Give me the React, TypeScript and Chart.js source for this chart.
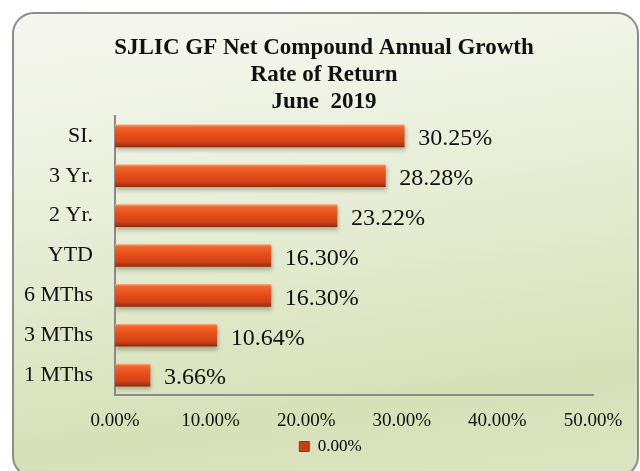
import React, { useEffect, useRef } from 'react';
import { Chart, registerables } from 'chart.js';

Chart.register(...registerables);

const categories = ['SI.', '3 Yr.', '2 Yr.', 'YTD', '6 MThs', '3 MThs', '1 MThs'];
const values = [30.25, 28.28, 23.22, 16.3, 16.3, 10.64, 3.66];
const xMin = 0;
const xMax = 50;
const xStep = 10;
const titleLines = ['SJLIC GF Net Compound Annual Growth', 'Rate of Return', 'June  2019'];
const seriesLabel = '0.00%';

const SERIF = '"Liberation Serif", "Times New Roman", serif';
const BAR_H = 22;

export default function App() {
  const ref = useRef<HTMLCanvasElement | null>(null);

  useEffect(() => {
    if (!ref.current) return;
    const shadowAndLabels = {
      id: 'shadowAndLabels',
      afterLayout(chart: any) {
        const t = chart.titleBlock;
        if (t) {
          t.left = 55;
          t.right = 593;
        }
        const l = chart.legend;
        if (l) {
          l.left = 68;
          l.right = 593;
        }
      },
      beforeDatasetsDraw(chart: any) {
        const ctx = chart.ctx;
        ctx.save();
        ctx.shadowColor = 'rgba(60,60,40,0.35)';
        ctx.shadowBlur = 4;
        ctx.shadowOffsetX = 1;
        ctx.shadowOffsetY = 3;
      },
      afterDatasetsDraw(chart: any) {
        const ctx = chart.ctx;
        ctx.restore();
        const meta = chart.getDatasetMeta(0);
        ctx.save();
        ctx.font = '24px ' + SERIF;
        ctx.fillStyle = '#111111';
        ctx.textBaseline = 'middle';
        ctx.textAlign = 'left';
        meta.data.forEach((el: any, i: number) => {
          const v = chart.data.datasets[0].data[i] as number;
          ctx.fillText(v.toFixed(2) + '%', el.x + 14, el.y + 3);
        });
        ctx.restore();
      },
    };

    const chart = new Chart(ref.current, {
      type: 'bar',
      data: {
        labels: categories,
        datasets: [
          {
            label: seriesLabel,
            data: values,
            barThickness: BAR_H,
            borderWidth: 0,
            backgroundColor: (c: any) => {
              const ch = c.chart;
              if (c.type !== 'data' || !ch.chartArea || !ch.scales.y) return '#d8461a';
              const y = ch.scales.y.getPixelForValue(c.dataIndex);
              const g = ch.ctx.createLinearGradient(0, y - BAR_H / 2, 0, y + BAR_H / 2);
              g.addColorStop(0, '#f6a27a');
              g.addColorStop(0.1, '#f0662c');
              g.addColorStop(0.45, '#e64e1a');
              g.addColorStop(0.78, '#d24218');
              g.addColorStop(0.92, '#b03410');
              g.addColorStop(1, '#8e2a0c');
              return g;
            },
          },
        ],
      },
      options: {
        indexAxis: 'y',
        responsive: false,
        animation: false,
        devicePixelRatio: 1,
        layout: { padding: { top: 35, left: 12, right: 47, bottom: 6 } },
        scales: {
          x: {
            min: xMin,
            max: xMax,
            grid: { display: false, drawTicks: false },
            border: { display: true, color: '#8a8a8a', width: 2 },
            ticks: {
              stepSize: xStep,
              padding: 15,
              color: '#111111',
              font: { family: SERIF, size: 19 },
              callback: (v: any) => Number(v).toFixed(2) + '%',
            },
            afterFit: (s: any) => {
              s.height = 33;
            },
          },
          y: {
            grid: { display: false, drawTicks: false },
            border: { display: true, color: '#8a8a8a', width: 2 },
            ticks: {
              padding: 22,
              color: '#111111',
              font: { family: SERIF, size: 22 },
            },
            afterFit: (s: any) => {
              s.width = 103;
            },
          },
        },
        plugins: {
          title: {
            display: true,
            text: titleLines,
            color: '#111111',
            font: { family: SERIF, size: 23, weight: 'bold', lineHeight: 27 / 23 },
            padding: { top: 0, bottom: 0 },
          },
          legend: {
            display: true,
            position: 'bottom',
            labels: {
              boxWidth: 10,
              boxHeight: 10,
              padding: 10,
              color: '#111111',
              font: { family: SERIF, size: 17 },
              generateLabels: (ch: any) => [
                {
                  text: ch.data.datasets[0].label,
                  fillStyle: '#c83e14',
                  strokeStyle: '#a8320e',
                  lineWidth: 1,
                  hidden: false,
                  datasetIndex: 0,
                },
              ],
            },
          },
          tooltip: { enabled: false },
        },
      } as any,
      plugins: [shadowAndLabels],
    });
    return () => chart.destroy();
  }, []);

  return (
    <div style={{ position: 'absolute', left: 0, top: 0, width: 640, height: 471, overflow: 'hidden' }}>
      <div
        style={{
          position: 'absolute',
          left: 12,
          top: 12,
          width: 623,
          height: 462,
          border: '2px solid #8c8c8c',
          borderRadius: 22,
          background: 'linear-gradient(172deg, #f6f7f0 0%, #eef2e2 25%, #e2e9cc 55%, #d6e1b8 80%, #dbe5c2 100%)',
        }}
      />
      <canvas
        ref={ref}
        width={640}
        height={471}
        style={{ position: 'absolute', left: 0, top: 0, width: 640, height: 471 }}
      />
    </div>
  );
}
